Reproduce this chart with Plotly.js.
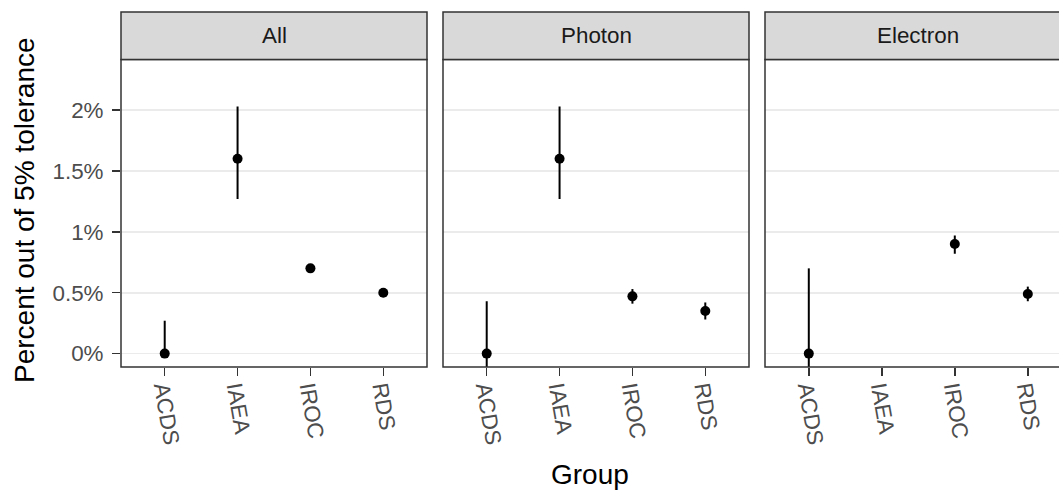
<!DOCTYPE html>
<html>
<head>
<meta charset="utf-8">
<script src="https://cdn.plot.ly/plotly-3.0.1.min.js"></script>
<style>html,body{margin:0;padding:0;background:#fff;}#chart{width:1059px;height:490px;}</style>
</head>
<body>
<div id="chart"></div>
<script>
// ---- data (percent) ----
const groups = ['ACDS', 'IAEA', 'IROC', 'RDS'];
const facets = ['All', 'Photon', 'Electron'];

const allEst = [0, 1.60, 0.70, 0.50];
const allLow = [0, 1.27, 0.67, 0.48];
const allHigh = [0.27, 2.03, 0.73, 0.52];

const photonEst = [0, 1.60, 0.47, 0.35];
const photonLow = [-0.43, 1.27, 0.41, 0.28];
const photonHigh = [0.43, 2.03, 0.53, 0.42];

const electronEst = [0, null, 0.90, 0.49];
const electronLow = [-0.70, null, 0.82, 0.43];
const electronHigh = [0.70, null, 0.97, 0.55];

const yTickVals = [0, 0.5, 1, 1.5, 2];
const yTickText = ['0%', '0.5%', '1%', '1.5%', '2%'];

// ---- layout geometry ----
const W = 1059, H = 490;
const mL = 121, mR = 0, mT = 12, mB = 123;
const pw = W - mL - mR, ph = H - mT - mB;
function dx(px) { return (px - mL) / pw; }
const panelX = [[dx(121), dx(427)], [dx(443), dx(749)], [dx(765), 1]];
const panelTopPx = 59.5;
const yDomTop = (H - mB - panelTopPx) / ph;

const series = [
  [allEst, allLow, allHigh],
  [photonEst, photonLow, photonHigh],
  [electronEst, electronLow, electronHigh]
];

const traces = series.map((s, i) => {
  const [est, lo, hi] = s;
  return {
    type: 'scatter', mode: 'markers',
    x: groups, y: est,
    xaxis: i === 0 ? 'x' : 'x' + (i + 1),
    yaxis: i === 0 ? 'y' : 'y' + (i + 1),
    marker: { color: '#000000', size: 10 },
    error_y: {
      type: 'data', symmetric: false,
      array: est.map((v, k) => v === null ? null : hi[k] - v),
      arrayminus: est.map((v, k) => v === null ? null : v - lo[k]),
      color: '#000000', thickness: 2, width: 0
    },
    cliponaxis: true,
    hoverinfo: 'skip', showlegend: false
  };
});

const tickFont = { family: 'Liberation Sans, Arial, sans-serif', size: 22.4, color: '#4D4D4D' };
const layout = {
  width: W, height: H,
  margin: { l: mL, r: mR, t: mT, b: mB, pad: 0 },
  paper_bgcolor: '#ffffff', plot_bgcolor: '#ffffff',
  showlegend: false,
  shapes: [], annotations: []
};

const xRightEnds = [3.6, 3.6, -0.6 + (1059 - 765) / 73];
for (let i = 0; i < 3; i++) {
  const xk = i === 0 ? 'xaxis' : 'xaxis' + (i + 1);
  const yk = i === 0 ? 'yaxis' : 'yaxis' + (i + 1);
  const yref = i === 0 ? 'y' : 'y' + (i + 1);
  layout[xk] = {
    domain: panelX[i], anchor: yref,
    type: 'category', categoryorder: 'array', categoryarray: groups,
    range: [-0.6, xRightEnds[i]],
    showgrid: false, zeroline: false, showline: false,
    ticks: 'outside', ticklen: 8, tickwidth: 1.5, tickcolor: '#333333',
    tickangle: 80, tickfont: tickFont, ticklabelstandoff: -9,
    fixedrange: true
  };
  layout[yk] = {
    domain: [0, yDomTop], anchor: i === 0 ? 'x' : 'x' + (i + 1),
    range: [-0.11, 2.415],
    tickvals: yTickVals, ticktext: yTickText,
    showticklabels: i === 0,
    ticks: i === 0 ? 'outside' : '',
    ticklen: 8, tickwidth: 1.5, tickcolor: '#333333',
    tickfont: tickFont, ticklabelstandoff: 4,
    showgrid: true, gridcolor: '#EBEBEB', gridwidth: 1.6,
    zeroline: false, showline: false, fixedrange: true
  };
  const xdref = (i === 0 ? 'x' : 'x' + (i + 1)) + ' domain';
  const ydref = yref + ' domain';
  const xEnd = i === 2 ? 1.1 : 1;
  // panel border
  layout.shapes.push({
    type: 'rect', xref: xdref, yref: ydref, x0: 0, x1: xEnd, y0: 0, y1: 1,
    line: { color: '#333333', width: 1.5 }, fillcolor: 'rgba(0,0,0,0)', layer: 'above'
  });
  // strip
  layout.shapes.push({
    type: 'rect', xref: xdref, yref: 'paper', x0: 0, x1: xEnd, y0: yDomTop, y1: 1,
    line: { color: '#333333', width: 1.5 }, fillcolor: '#D9D9D9', layer: 'above'
  });
  layout.annotations.push({
    text: facets[i], xref: 'paper', yref: 'paper',
    x: i === 2 ? dx(765 + 153) : (panelX[i][0] + panelX[i][1]) / 2,
    y: (yDomTop + 1) / 2, xanchor: 'center', yanchor: 'middle', showarrow: false,
    font: { family: 'Liberation Sans, Arial, sans-serif', size: 22.4, color: '#1A1A1A' }
  });
}

// axis titles
layout.annotations.push({
  text: 'Group', xref: 'paper', yref: 'paper',
  x: dx(590), y: (H - mB - 474) / ph, xanchor: 'center', yanchor: 'middle', showarrow: false,
  font: { family: 'Liberation Sans, Arial, sans-serif', size: 28, color: '#000000' }
});
layout.annotations.push({
  text: 'Percent out of 5% tolerance', xref: 'paper', yref: 'paper',
  x: dx(25), y: (H - mB - 210) / ph, xanchor: 'center', yanchor: 'middle', showarrow: false,
  textangle: -90,
  font: { family: 'Liberation Sans, Arial, sans-serif', size: 28, color: '#000000' }
});

Plotly.newPlot('chart', traces, layout, { displayModeBar: false, staticPlot: true });
</script>
</body>
</html>
